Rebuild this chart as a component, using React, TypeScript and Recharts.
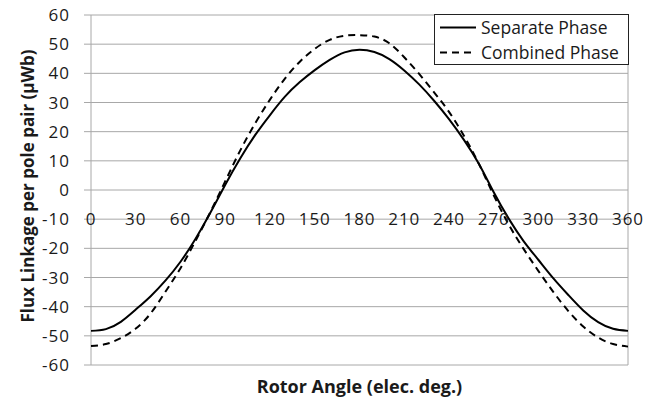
import React from 'react';
import { LineChart, Line, XAxis, YAxis, CartesianGrid, Legend, ReferenceDot } from 'recharts';

const angles = [0, 10, 20, 30, 40, 50, 60, 70, 80, 90, 100, 110, 120, 130, 140, 150, 160, 170, 180, 190, 200, 210, 220, 230, 240, 250, 260, 270, 280, 290, 300, 310, 320, 330, 340, 350, 360];
const separatePhase = [-48.3, -47.7, -45.2, -41.0, -36.4, -31.0, -24.6, -16.8, -7.8, 1.8, 10.8, 18.8, 25.7, 32.0, 37.0, 41.1, 44.6, 47.2, 48.1, 47.3, 44.9, 41.0, 36.2, 30.6, 24.3, 17.2, 9.0, -0.8, -9.8, -17.5, -24.0, -30.3, -36.0, -41.3, -45.3, -47.6, -48.3];
const combinedPhase = [-53.5, -52.8, -50.8, -47.5, -42.3, -34.8, -26.8, -17.5, -7.6, 3.0, 13.5, 22.8, 31.0, 38.2, 44.0, 48.4, 51.5, 52.9, 53.1, 52.6, 50.3, 45.5, 39.8, 33.5, 26.8, 18.6, 9.0, -1.8, -11.8, -20.2, -27.8, -35.0, -41.5, -46.8, -50.6, -52.8, -53.7];
const xTicks = [0, 30, 60, 90, 120, 150, 180, 210, 240, 270, 300, 330, 360];
const yTicks = [-60, -50, -40, -30, -20, -10, 0, 10, 20, 30, 40, 50, 60];
const xTickLabelRow = -10;
const seriesNames = ['Separate Phase', 'Combined Phase'];
const xTitle = 'Rotor Angle (elec. deg.)';
const yTitle = 'Flux Linkage per pole pair  (\u00B5Wb)';

const data = angles.map((a, i) => ({ angle: a, separate: separatePhase[i], combined: combinedPhase[i] }));

const FONT = '"Open Sans", "DejaVu Sans", sans-serif';
const GRID = '#a8a8a8';
const TEXT = '#1a1a1a';
const DASH = '7 5';

function LegendBox(props: any) {
  const payload = [...(props.payload || [])].sort(
    (a: any, b: any) => seriesNames.indexOf(a.value) - seriesNames.indexOf(b.value)
  );
  return (
    <div style={{ width: 195, height: 51, boxSizing: 'border-box', border: '1.3px solid #222', background: '#fff', fontFamily: FONT, fontSize: 17.5, color: TEXT }}>
      {payload.map((p: any, i: number) => {
        const dash = p?.payload?.strokeDasharray ?? (p.dataKey === 'combined' ? DASH : undefined);
        return (
          <div key={i} style={{ display: 'flex', alignItems: 'center', height: 25, lineHeight: '25px', whiteSpace: 'nowrap' }}>
            <svg width={46} height={25} style={{ flex: 'none' }}>
              <line x1={5} x2={41} y1={12.5} y2={12.5} stroke="#000" strokeWidth={2} strokeDasharray={dash} />
            </svg>
            <span>{p.value}</span>
          </div>
        );
      })}
    </div>
  );
}

function YTitle(props: any) {
  const vb = props.viewBox || { x: 0, y: 0, width: 0, height: 0 };
  const cx = vb.x + 27;
  const cy = vb.y + vb.height / 2 - 4;
  return (
    <text x={cx} y={cy} transform={`rotate(-90, ${cx}, ${cy})`} textAnchor="middle" dominantBaseline="central" fontFamily={FONT} fontWeight={700} fontSize={17} fill={TEXT}>
      {yTitle}
    </text>
  );
}

export default function App() {
  return (
    <div style={{ position: 'absolute', left: 0, top: 0, background: '#fff' }}>
      <LineChart width={659} height={401} data={data} margin={{ top: 15, right: 31, bottom: 0, left: 0 }}>
        <CartesianGrid stroke={GRID} strokeWidth={1} />
        <XAxis
          dataKey="angle"
          type="number"
          domain={[0, 360]}
          ticks={xTicks}
          interval={0}
          tick={false}
          tickLine={false}
          axisLine={false}
          height={36}
          label={{ value: xTitle, position: 'insideBottom', offset: 8, fill: TEXT, fontFamily: FONT, fontWeight: 700, fontSize: 18 }}
        />
        <YAxis
          type="number"
          domain={[-60, 60]}
          ticks={yTicks}
          interval={0}
          width={91}
          axisLine={false}
          tickSize={7}
          tickMargin={14}
          tickLine={{ stroke: GRID }}
          tick={{ fill: TEXT, fontSize: 17, fontFamily: FONT, letterSpacing: 1 }}
          label={{ content: (p: any) => <YTitle {...p} /> }}
        />
        {xTicks.map((t) => (
          <ReferenceDot
            key={t}
            x={t}
            y={xTickLabelRow}
            r={0}
            fill="none"
            stroke="none"
            label={{ value: String(t), position: 'center', fill: TEXT, fontSize: 17, fontFamily: FONT, letterSpacing: 1 }}
          />
        ))}
        <Legend
          layout="vertical"
          align="center"
          verticalAlign="middle"
          wrapperStyle={{ top: 14, left: 434, width: 195, height: 51 }}
          content={(p: any) => <LegendBox {...p} />}
        />
        <Line name={seriesNames[0]} dataKey="separate" type="natural" stroke="#000" strokeWidth={2} dot={false} activeDot={false} isAnimationActive={false} />
        <Line name={seriesNames[1]} dataKey="combined" type="natural" stroke="#000" strokeWidth={2} strokeDasharray={DASH} dot={false} activeDot={false} isAnimationActive={false} />
      </LineChart>
    </div>
  );
}
